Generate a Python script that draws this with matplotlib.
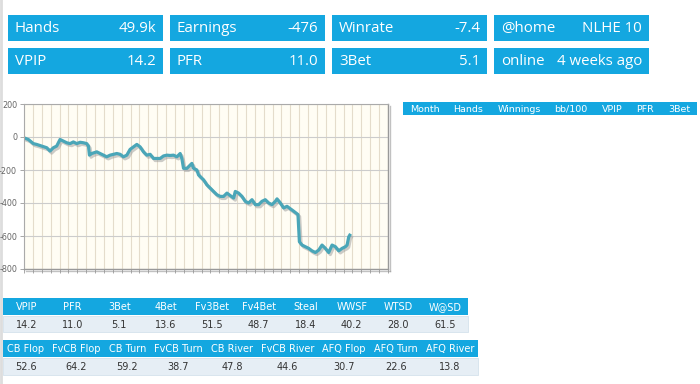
import numpy as np
import matplotlib
matplotlib.use("Agg")
import matplotlib.pyplot as plt
from matplotlib.patches import Rectangle
import matplotlib.patheffects as pe

# summary boxes
box_labels = [["Hands", "Earnings", "Winrate", "@home"],
              ["VPIP", "PFR", "3Bet", "online"]]
box_values = [["49.9k", "-476", "-7.4", "NLHE 10"],
              ["14.2", "11.0", "5.1", "4 weeks ago"]]

# monthly table header (no rows)
month_cols = ["Month", "Hands", "Winnings", "bb/100", "VPIP", "PFR", "3Bet"]

# stats tables
pre_cols = ["VPIP", "PFR", "3Bet", "4Bet", "Fv3Bet", "Fv4Bet", "Steal", "WWSF", "WTSD", "W@SD"]
pre_vals = ["14.2", "11.0", "5.1", "13.6", "51.5", "48.7", "18.4", "40.2", "28.0", "61.5"]
post_cols = ["CB Flop", "FvCB Flop", "CB Turn", "FvCB Turn", "CB River", "FvCB River",
             "AFQ Flop", "AFQ Turn", "AFQ River"]
post_vals = ["52.6", "64.2", "59.2", "38.7", "47.8", "44.6", "30.7", "22.6", "13.8"]

# graph: position along the x grid and net won
x_pos = [0, 0.49, 1.05, 1.43, 1.99, 2.56, 2.93, 3.31, 3.68, 4.06,
         4.44, 4.81, 5.19, 5.56, 5.94, 6.32, 6.69, 7.07, 7.26, 7.37,
         7.63, 8.20, 8.57, 8.95, 9.32, 9.70, 10.08, 10.45, 10.83, 11.20,
         11.58, 11.95, 12.33, 12.71, 13.08, 13.46, 13.83, 14.21, 14.59, 14.96,
         15.34, 15.71, 16.09, 16.47, 16.84, 17.22, 17.59, 17.78, 17.97, 18.35,
         18.72, 18.91, 19.10, 19.47, 19.66, 19.85, 20.23, 20.60, 20.98, 21.35,
         21.73, 22.11, 22.48, 22.86, 23.23, 23.61, 23.80, 24.17, 24.55, 24.92,
         25.30, 25.68, 26.05, 26.43, 26.80, 27.18, 27.56, 27.93, 28.31, 28.50,
         28.87, 29.25, 29.62, 30.00, 30.38, 30.86, 31.02, 31.32, 31.69, 32.07,
         32.44, 32.82, 33.20, 33.57, 33.95, 34.32, 34.70, 35.08, 35.45, 35.83,
         36.20, 36.39, 36.58, 36.69]
net_won = [-5, -15, -40, -45, -55, -65, -85, -65, -55, -15,
           -25, -35, -40, -30, -40, -32, -35, -40, -55, -110,
           -100, -90, -100, -110, -120, -110, -105, -100, -105, -120,
           -110, -75, -60, -45, -60, -90, -110, -105, -130, -130,
           -130, -115, -110, -112, -110, -120, -100, -130, -190, -190,
           -170, -160, -190, -200, -230, -240, -260, -290, -310, -330,
           -350, -360, -360, -340, -355, -370, -330, -340, -360, -390,
           -400, -380, -410, -410, -390, -380, -400, -410, -390, -375,
           -400, -430, -420, -435, -450, -470, -635, -655, -665, -675,
           -690, -700, -685, -655, -675, -700, -655, -665, -690, -675,
           -665, -655, -605, -595]
y_ticks = [200, 0, -200, -400, -600, -800]

BLUE = "#14a7e0"
W, H = 700, 384

fig = plt.figure(figsize=(7, 3.84), dpi=100)
fig.patch.set_facecolor("white")

ov = fig.add_axes([0, 0, 1, 1], zorder=0)
ov.set_xlim(0, W)
ov.set_ylim(H, 0)
ov.axis("off")
renderer = fig.canvas.get_renderer()

# thin grey strip on the left border
ov.plot([1, 1], [0, H], color="#dddddd", lw=2)

# summary boxes
bw, bh, gap = 155, 26, 7
for r in range(2):
    y0 = 15 + r * (bh + gap)
    for c in range(4):
        x0 = 8 + c * (bw + gap)
        ov.add_patch(Rectangle((x0, y0), bw, bh, color=BLUE, lw=0))
        ov.text(x0 + 7, y0 + bh / 2 + 0.5, box_labels[r][c], color="white",
                fontsize=10.8, family="Open Sans", va="center", ha="left")
        ov.text(x0 + bw - 7, y0 + bh / 2 + 0.5, box_values[r][c], color="white",
                fontsize=10.8, family="Open Sans", va="center", ha="right")


def text_width(s, size):
    t = ov.text(0, 0, s, fontsize=size)
    w = t.get_window_extent(renderer).width
    t.remove()
    return w


def col_edges(x0, x1, cols, size, uniform):
    n = len(cols)
    if uniform:
        w = np.full(n, (x1 - x0) / n)
    else:
        tw = np.array([text_width(s, size) for s in cols])
        w = tw + (x1 - x0 - tw.sum()) / n
    return x0 + np.concatenate([[0], np.cumsum(w)])


def draw_table(x0, x1, y0, hh, bh, cols, vals, uniform, size=7):
    edges = col_edges(x0, x1, cols, size, uniform)
    ov.add_patch(Rectangle((x0, y0), x1 - x0, hh, color=BLUE, lw=0))
    if vals is not None:
        ov.add_patch(Rectangle((x0, y0 + hh + 1), x1 - x0, bh, facecolor="#e6eef5",
                               edgecolor="#d5e2ec", lw=0.6))
    for i, name in enumerate(cols):
        cx = (edges[i] + edges[i + 1]) / 2
        ov.text(cx, y0 + hh / 2 + 0.5, name, color="white", fontsize=size,
                ha="center", va="center")
        if vals is not None:
            ov.text(cx, y0 + hh + 1 + bh / 2 + 0.5, vals[i], color="#333333",
                    fontsize=size, ha="center", va="center")


draw_table(403, 697, 102, 13, 0, month_cols, None, uniform=False, size=6.8)
draw_table(3, 468, 298, 17, 16, pre_cols, pre_vals, uniform=True)
draw_table(3, 478, 340, 17, 17, post_cols, post_vals, uniform=False)

# graph
L, R, T, B = 24, 388, 104, 269
ax = fig.add_axes([L / W, 1 - B / H, (R - L) / W, (B - T) / H], zorder=1)
ax.set_facecolor("#fffdf4")
ax.set_xlim(0, 41)
ax.set_ylim(-800, 200)
ax.set_xticks(np.arange(0, 42, 1))
ax.set_xticklabels([])
ax.set_yticks(y_ticks)
ax.set_yticklabels([str(v) for v in y_ticks])
ax.tick_params(axis="both", length=3, width=0.6, color="#999999",
               labelsize=5.8, labelcolor="#666666", pad=2)
ax.grid(axis="x", color="#e4dccb", lw=0.8)
ax.grid(axis="y", color="#cccccc", lw=0.8)
ax.set_axisbelow(True)
for side in ["top", "left"]:
    ax.spines[side].set_color("#aaaaaa")
    ax.spines[side].set_linewidth(0.8)
for side in ["bottom", "right"]:
    ax.spines[side].set_color("#999999")
    ax.spines[side].set_linewidth(1.0)
    ax.spines[side].set_path_effects([pe.SimpleLineShadow(offset=(1.2, -1.2),
                                                          shadow_color="#999999", alpha=0.6),
                                      pe.Normal()])

ax.plot(x_pos, net_won, color="#4aa6b8", lw=2.3, solid_joinstyle="round",
        path_effects=[pe.SimpleLineShadow(offset=(1.2, -1.5), shadow_color="#9a9a9a", alpha=0.5),
                      pe.Normal()])

fig.savefig("out.png", dpi=100)
